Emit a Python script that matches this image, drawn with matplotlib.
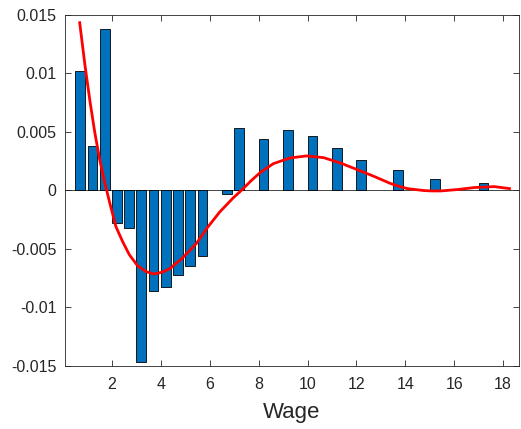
import matplotlib
matplotlib.use("Agg")
import matplotlib.pyplot as plt

plt.rcParams["font.family"] = ["Liberation Sans", "DejaVu Sans"]

# bar data (wage bins, difference in density)
wage = [0.7, 1.2, 1.7, 2.2, 2.7, 3.2, 3.7, 4.2, 4.7, 5.2, 5.7,
        6.7, 7.2, 8.2, 9.2, 10.2, 11.2, 12.2, 13.7, 15.2, 17.2]
diff = [0.0102, 0.0038, 0.0138, -0.0028, -0.0032, -0.0147, -0.0086,
        -0.0083, -0.0072, -0.0065, -0.0056, -0.0003, 0.0053, 0.0044,
        0.0051, 0.0046, 0.0036, 0.0026, 0.0017, 0.0010, 0.0006]

# smoothed red curve
curve_x = [0.68, 0.90, 1.10, 1.30, 1.50, 1.70, 1.90, 2.16, 2.44, 2.71,
           3.05, 3.40, 3.71, 4.05, 4.36, 4.85, 5.45, 5.90, 6.41, 6.96,
           7.30, 7.71, 8.06, 8.60, 9.29, 9.97, 10.66, 11.34, 12.03, 12.71,
           13.40, 13.75, 14.08, 14.77, 15.10, 15.45, 16.14, 16.82, 17.64,
           18.26]
curve_y = [0.0143, 0.0106, 0.0076, 0.0049, 0.0026, 0.0007, -0.0010,
           -0.0031, -0.0044, -0.0055, -0.00645, -0.00695, -0.00715,
           -0.0070, -0.0067, -0.00585, -0.00455, -0.0032, -0.00185,
           -0.00065, 0.0000, 0.00085, 0.0015, 0.00227, 0.00276, 0.00293,
           0.00278, 0.00233, 0.00176, 0.00119, 0.00057, 0.00033, 0.00014,
           -0.00003, -0.00006, -0.00006, 0.00006, 0.00023, 0.00031, 0.00014]

yticks = [-0.015, -0.01, -0.005, 0, 0.005, 0.01, 0.015]
ytick_labels = ["-0.015", "-0.01", "-0.005", "0", "0.005", "0.01", "0.015"]
xticks = [2, 4, 6, 8, 10, 12, 14, 16, 18]

fig = plt.figure(figsize=(5.21, 4.29), dpi=100)
ax = fig.add_axes([0.1248, 0.1469, 0.8714, 0.8193])

ax.bar(wage, diff, width=0.4, color="#0072BD", edgecolor="black",
       linewidth=0.6, zorder=2)
ax.axhline(0, color="#262626", lw=0.6, zorder=1)
ax.plot(curve_x, curve_y, color="red", lw=2, zorder=3)

ax.set_xlim(0.08, 18.65)
ax.set_ylim(-0.015, 0.015)
ax.set_xticks(xticks)
ax.set_xticklabels([str(t) for t in xticks])
ax.set_yticks(yticks)
ax.set_yticklabels(ytick_labels)
ax.tick_params(direction="in", top=True, right=True, length=4,
               labelsize=11.5, colors="#262626", width=0.6)
ax.tick_params(axis="x", pad=8)
ax.tick_params(axis="y", pad=6)
for s in ax.spines.values():
    s.set_color("#262626")
    s.set_linewidth(0.6)
ax.set_xlabel("Wage", fontsize=16, color="#262626", labelpad=7)

fig.savefig("out.png", dpi=100)
